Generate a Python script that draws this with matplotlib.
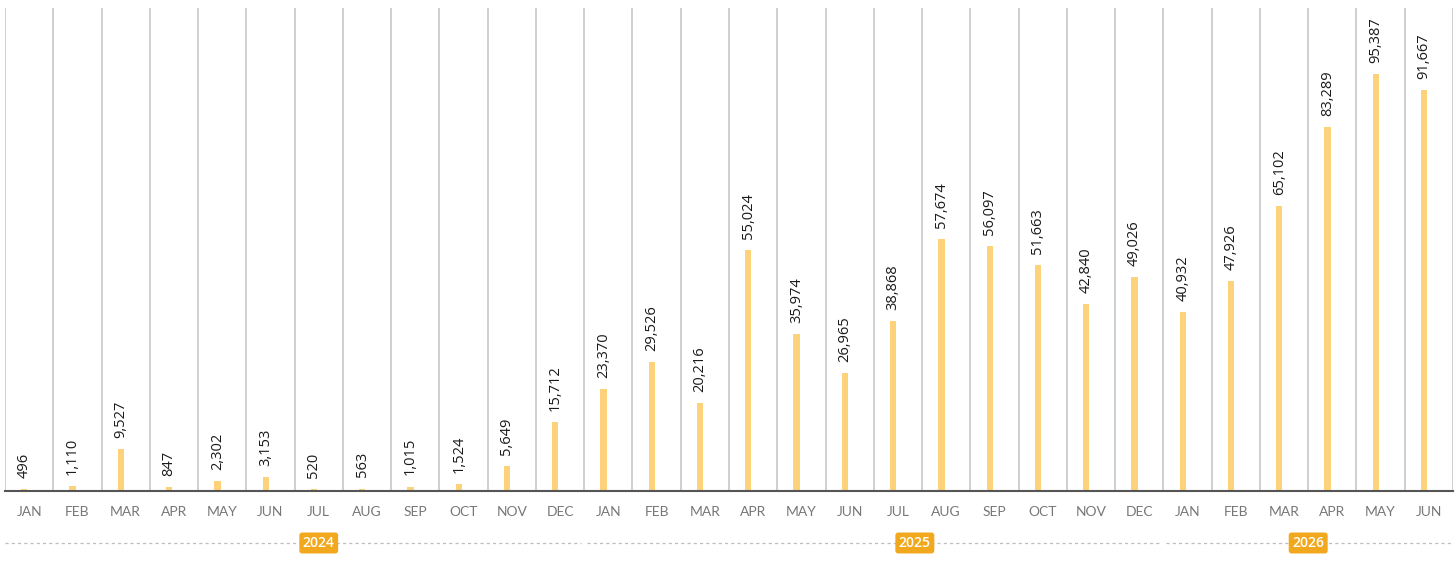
import matplotlib.pyplot as plt
import numpy as np

months = ['JAN', 'FEB', 'MAR', 'APR', 'MAY', 'JUN', 'JUL', 'AUG', 'SEP', 'OCT', 'NOV', 'DEC',
          'JAN', 'FEB', 'MAR', 'APR', 'MAY', 'JUN', 'JUL', 'AUG', 'SEP', 'OCT', 'NOV', 'DEC',
          'JAN', 'FEB', 'MAR', 'APR', 'MAY', 'JUN']
values_2024 = [496, 1110, 9527, 847, 2302, 3153, 520, 563, 1015, 1524, 5649, 15712]
values_2025 = [23370, 29526, 20216, 55024, 35974, 26965, 38868, 57674, 56097, 51663, 42840, 49026]
values_2026 = [40932, 47926, 65102, 83289, 95387, 91667]
years = ['2024', '2025', '2026']
year_starts = [0, 12, 24]   # first month index of each year
year_ends = [11, 23, 29]

values = values_2024 + values_2025 + values_2026
x = np.arange(len(values))

bar_col = '#FED27A'
badge_col = '#F2A81D'

fig = plt.figure(figsize=(14.56, 5.63), dpi=100)
ax = fig.add_axes([5 / 1456, 72 / 563, 1448 / 1456, 491 / 563])
ax.set_xlim(-0.5, len(values) - 0.5)
ax.set_ylim(0, 112300)

# month separators
ax.vlines(np.arange(len(values) + 1) - 0.5, 0, 1 - 8 / 491,
          transform=ax.get_xaxis_transform(), color='#cfcfcf', lw=1.4, zorder=1)

ax.bar(x - 0.1, values, width=0.13, color=bar_col, zorder=2)
for xi, v in zip(x, values):
    ax.annotate(f'{v:,}', (xi - 0.1, v), xytext=(0, 8), textcoords='offset points',
                rotation=90, ha='center', va='bottom', fontsize=10.5,
                family='Open Sans', color='#1a1a1a')

for s in ['top', 'right', 'left']:
    ax.spines[s].set_visible(False)
ax.spines['bottom'].set_color('#555555')
ax.spines['bottom'].set_linewidth(1.5)
ax.set_yticks([])
ax.set_xticks(x)
ax.set_xticklabels(months, family='Lato', fontsize=10, color='#777777')
ax.tick_params(axis='x', length=0, pad=11)

# year rows: dotted segments with badges
tr = ax.get_xaxis_transform()
yy = -52 / 491
badge_x = [6.0, 18.35, 26.5]
for yr, a, b, bx in zip(years, year_starts, year_ends, badge_x):
    x0 = a - 0.5 + (0.06 if a > 0 else 0)
    x1 = b + 0.5 - (0.06 if b < len(values) - 1 else 0)
    ax.plot([x0, x1], [yy, yy], transform=tr, clip_on=False, color='#bdbdbd',
            lw=0.9, ls=(0, (2.5, 2.5)), zorder=1)
    ax.text(bx, yy, yr, transform=tr, ha='center', va='center', fontsize=10,
            family='Open Sans', fontweight='semibold', color='white', zorder=3,
            bbox=dict(boxstyle='round,pad=0.25,rounding_size=0.2', fc=badge_col, ec='none'))

fig.savefig('out.png', dpi=100, facecolor='white')
